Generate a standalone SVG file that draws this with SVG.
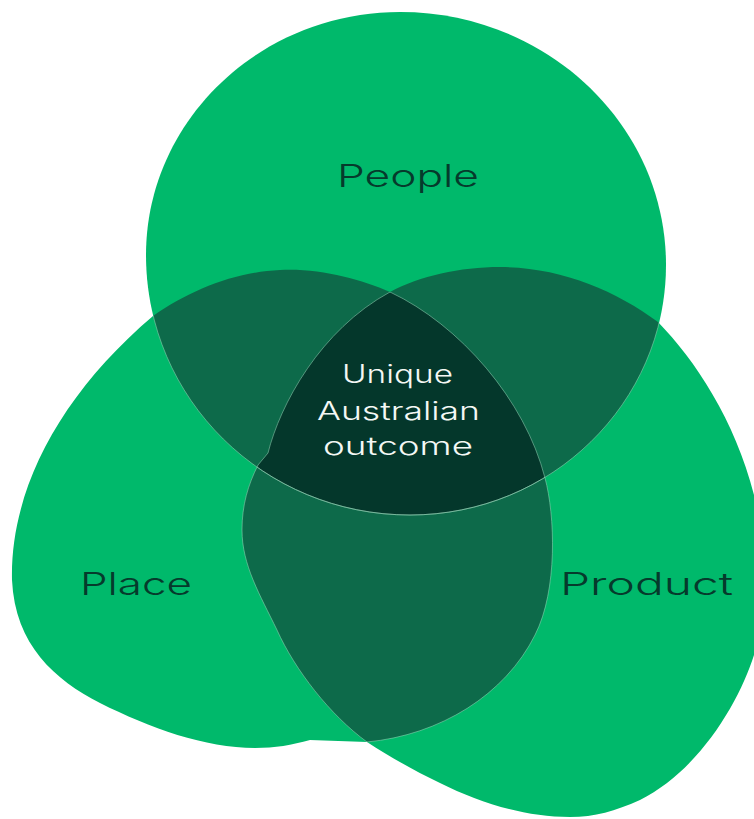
<svg xmlns="http://www.w3.org/2000/svg" xmlns:xlink="http://www.w3.org/1999/xlink" width="754" height="819" viewBox="0 0 754 819">
<style>
.base{fill:#00B96B}
.mid{fill:#0D6A4A}
.dark{fill:#04372B}
.seam{fill:none;stroke:#9BD8BC;stroke-width:0.7;opacity:0.75}
.lbl{font-family:Inter,"DejaVu Sans","Liberation Sans",sans-serif;font-weight:300;font-size:31px;fill:#063A2C}
.ctr{font-family:Inter,"DejaVu Sans","Liberation Sans",sans-serif;font-weight:300;font-size:25px;fill:#F4F8F5}
</style>
<defs>
<path id="pPeople" d="M 400 12 C 547 12 666 125 666 265 C 666 403 551 515 410 515 C 264 515 146 399 146 255 C 146 121 260 12 400 12 Z"/>
<path id="pPlace" d="M 153 316 C 190 290 235 272 280 270 C 320 268 360 279 390 292 C 460 325 525 400 545 478 C 555 515 558 590 535 635 C 505 695 440 735 367 742 L 310 740 C 292 745 275 748 255 748 C 205 748 150 728 100 703 C 55 680 15 645 12 580 C 10 490 60 395 153 316 Z"/>
<path id="pProduct" d="M 390 292 C 420 276 460 267 500 267 C 560 267 615 290 658 322 C 695 360 735 420 754 495 C 768 550 770 610 754 655 C 740 700 700 770 640 800 C 615 811 595 817 570 817 C 525 817 480 803 440 783 C 415 771 390 757 367 742 C 330 715 295 670 277 630 C 260 595 242 565 242 530 C 242 505 248 485 258 465 L 268 453 C 280 405 320 330 390 292 Z"/>
<clipPath id="cPeople"><use xlink:href="#pPeople"/></clipPath>
<clipPath id="cPlace"><use xlink:href="#pPlace"/></clipPath>
<clipPath id="cProduct"><use xlink:href="#pProduct"/></clipPath>
</defs>
<g id="node-place"><use xlink:href="#pPlace" class="base"/></g>
<g id="node-product"><use xlink:href="#pProduct" class="base"/></g>
<g id="node-people"><use xlink:href="#pPeople" class="base"/></g>
<g id="overlap-people-place-product">
<g clip-path="url(#cPeople)"><use xlink:href="#pPlace" class="mid"/><use xlink:href="#pProduct" class="mid"/></g>
<g clip-path="url(#cPlace)"><use xlink:href="#pProduct" class="mid"/></g>
<g clip-path="url(#cPeople)"><g clip-path="url(#cPlace)"><use xlink:href="#pProduct" class="dark"/></g></g>
</g>
<g id="seams">
<g clip-path="url(#cPlace)"><use xlink:href="#pProduct" class="seam"/><use xlink:href="#pPeople" class="seam"/></g>
<g clip-path="url(#cProduct)"><use xlink:href="#pPlace" class="seam"/><use xlink:href="#pPeople" class="seam"/></g>
</g>
<g id="labels">
<text class="lbl" x="337" y="187" textLength="142" lengthAdjust="spacingAndGlyphs">People</text>
<text class="lbl" x="80" y="595" textLength="112" lengthAdjust="spacingAndGlyphs">Place</text>
<text class="lbl" x="560" y="595" textLength="173" lengthAdjust="spacingAndGlyphs">Product</text>
</g>
<g id="node-center">
<text class="ctr" x="342" y="383" textLength="111" lengthAdjust="spacingAndGlyphs">Unique</text>
<text class="ctr" x="317" y="420" textLength="163" lengthAdjust="spacingAndGlyphs">Australian</text>
<text class="ctr" x="323" y="455" textLength="150" lengthAdjust="spacingAndGlyphs">outcome</text>
</g>
</svg>
